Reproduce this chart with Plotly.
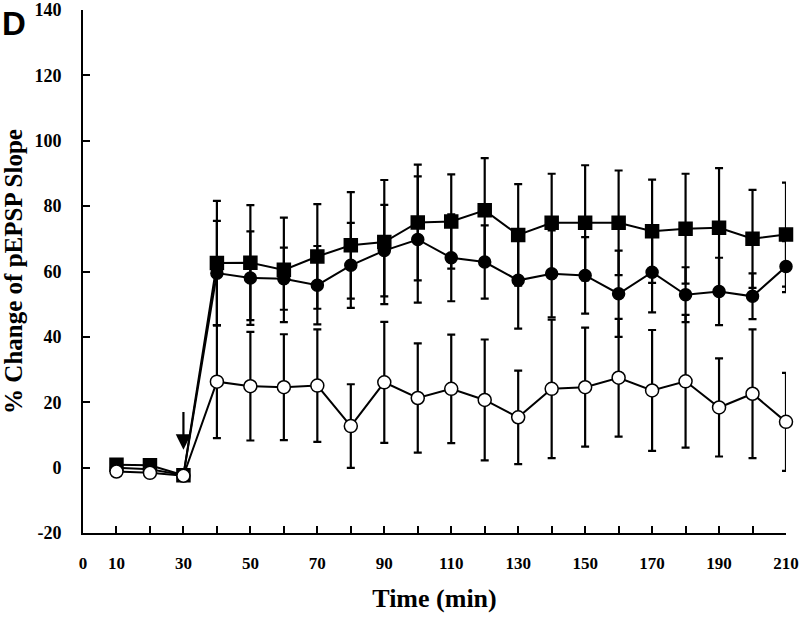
import plotly.graph_objects as go

time_min = [10, 20, 30, 40, 50, 60, 70, 80, 90, 100, 110, 120, 130, 140, 150, 160, 170, 180, 190, 200, 210]

sq_mean = [0.9, 0.7, -2.3, 62.6, 62.7, 60.5, 64.6, 68.0, 69.0, 75.0, 75.3, 78.7, 71.2, 74.9, 74.9, 74.9, 72.3, 73.1, 73.4, 70.0, 71.3]
sq_err = [0, 0, 0, 19.0, 17.6, 16.0, 16.0, 16.3, 19.0, 17.7, 14.4, 16.0, 15.5, 15.0, 17.6, 16.0, 15.8, 16.8, 18.2, 15.0, 15.9]

fc_mean = [0.0, -0.5, -2.3, 59.5, 58.0, 57.8, 55.8, 61.9, 66.4, 69.8, 64.2, 62.9, 57.3, 59.3, 58.8, 53.2, 59.8, 52.9, 53.9, 52.4, 61.5]
fc_err = [0, 0, 0, 16.0, 14.3, 9.5, 12.0, 13.0, 14.0, 19.3, 13.3, 11.2, 14.8, 13.3, 11.7, 13.2, 12.3, 8.4, 10.3, 7.0, 7.8]

oc_mean = [-1.2, -1.6, -2.5, 26.3, 24.9, 24.6, 25.1, 12.7, 26.1, 21.3, 24.1, 20.7, 15.4, 24.1, 24.6, 27.5, 23.6, 26.4, 18.4, 22.6, 14.0]
oc_err = [0, 0, 0, 17.3, 16.6, 16.2, 17.2, 12.8, 18.5, 16.7, 16.6, 18.5, 14.3, 21.2, 18.2, 18.0, 18.5, 20.3, 15.0, 19.7, 15.0]

x_tickvals = [0, 10, 20, 30, 40, 50, 60, 70, 80, 90, 100, 110, 120, 130, 140, 150, 160, 170, 180, 190, 200, 210]
x_ticktext = ["0", "10", "", "30", "", "50", "", "70", "", "90", "", "110", "", "130", "", "150", "", "170", "", "190", "", "210"]
y_tickvals = [-20, 0, 20, 40, 60, 80, 100, 120, 140]
y_ticktext = ["-20", "0", "20", "40", "60", "80", "100", "120", "140"]

arrow_time = 30
arrow_tip = 5.5
arrow_tail = 17.5

FONT = "Liberation Serif"

fig = go.Figure()

def add_series(mean, err, symbol, fill, size):
    fig.add_trace(go.Scatter(
        x=time_min, y=mean, mode="lines+markers",
        line=dict(color="black", width=2),
        marker=dict(symbol=symbol, size=size, color=fill, line=dict(color="black", width=1.5)),
        error_y=dict(type="data", array=err, visible=True, color="black", thickness=2.2, width=4),
        showlegend=False,
        cliponaxis=False,
    ))

add_series(sq_mean, sq_err, "square", "black", 13)
add_series(fc_mean, fc_err, "circle", "black", 12)
add_series(oc_mean, oc_err, "circle", "white", 13)

fig.add_annotation(
    x=arrow_time, y=arrow_tip, ax=arrow_time, ay=arrow_tail,
    xref="x", yref="y", axref="x", ayref="y",
    showarrow=True, arrowhead=2, arrowsize=1.4, arrowwidth=2.2, arrowcolor="black", text="",
)

fig.add_annotation(
    text="D", xref="paper", yref="paper", x=-83 / 703, y=1.014,
    xanchor="left", yanchor="top", showarrow=False,
    font=dict(family="Liberation Sans", size=33, color="black", weight="bold"),
)

fig.update_xaxes(
    range=[0, 210], tickvals=x_tickvals, ticktext=x_ticktext,
    ticks="inside", ticklen=7, tickwidth=2, tickcolor="black",
    showline=True, linecolor="black", linewidth=2, showgrid=False, zeroline=False,
    tickfont=dict(family=FONT, size=17, color="black", weight="bold"),
    ticklabelstandoff=14, automargin=False,
    title=dict(text="Time (min)", font=dict(family=FONT, size=26, color="black", weight="bold"), standoff=16),
)
fig.update_yaxes(
    range=[-20, 140], tickvals=y_tickvals, ticktext=y_ticktext,
    ticks="inside", ticklen=7, tickwidth=2, tickcolor="black",
    showline=True, linecolor="black", linewidth=2, showgrid=False, zeroline=False,
    tickfont=dict(family=FONT, size=18, color="black", weight="bold"),
    ticklabelstandoff=16, automargin=False,
    title=dict(text="% Change of pEPSP Slope", font=dict(family=FONT, size=25, color="black", weight="bold"), standoff=6),
)

fig.update_layout(
    width=800, height=621,
    margin=dict(l=83, r=14, t=10, b=88),
    paper_bgcolor="white", plot_bgcolor="white",
)

fig.write_html("out.html", config={"displayModeBar": False},
               post_script="document.body.style.margin='0';")
